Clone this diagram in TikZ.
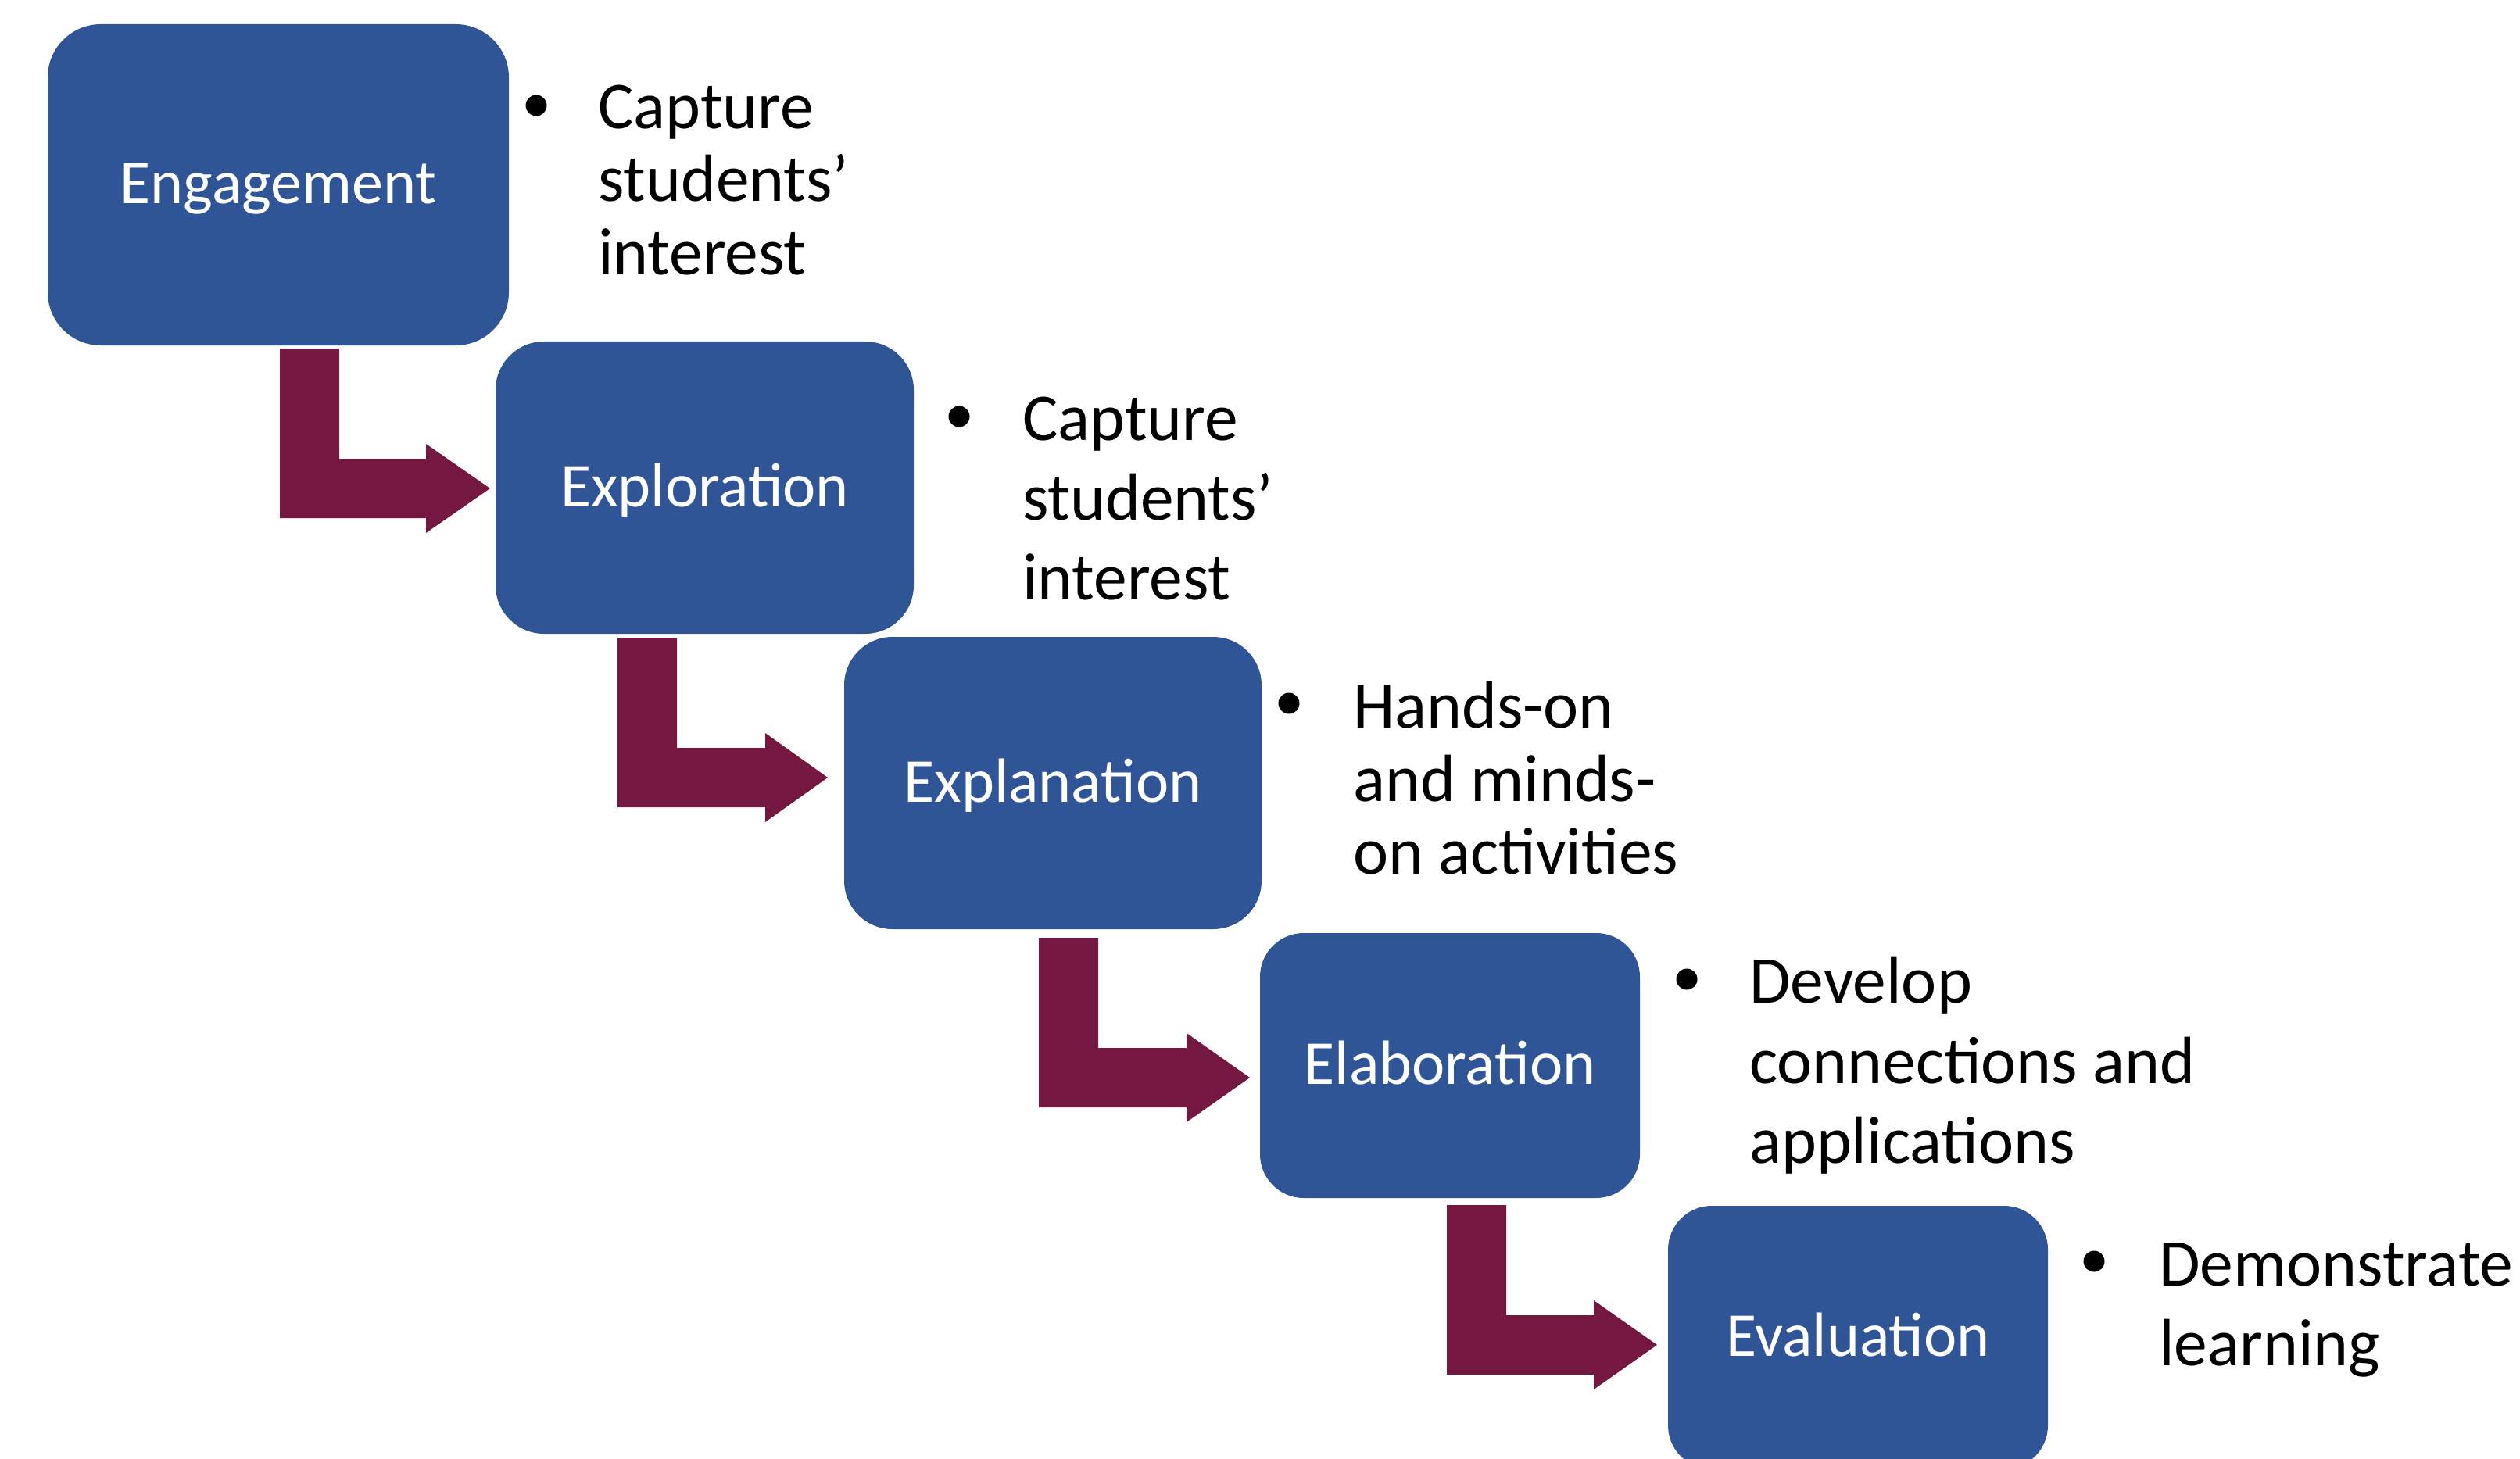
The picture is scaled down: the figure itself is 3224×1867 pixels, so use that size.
\documentclass[tikz,border=0pt]{standalone}
\usepackage{fontspec}
\setmainfont{Carlito}
\definecolor{boxblue}{HTML}{2F5597}
\definecolor{arrowred}{HTML}{741842}
\newcommand\bentarrow[5]{%
  \fill[arrowred] (#1,#2) -- ({#1+76},#2) -- ({#1+76},{#3-38}) -- (#4,{#3-38})
    -- (#4,{#3-57}) -- (#5,#3) -- (#4,{#3+57}) -- (#4,{#3+38}) -- (#1,{#3+38}) -- cycle;}
\begin{document}
\begin{tikzpicture}[x=1pt,y=-1pt,
  box/.style={rectangle, fill=boxblue, text=white, inner sep=0pt,
    font=\fontsize{80}{92}\selectfont, text height=48pt, text depth=0pt},
  dot/.style={circle, fill=black, inner sep=0pt, minimum size=27pt},
  btext/.style={anchor=base west, inner sep=0pt, text=black,
    font=\fontsize{85.5}{100}\selectfont}]
\path[use as bounding box] (0,0) rectangle (3224,1867);
\clip (0,0) rectangle (3224,1867);

% boxes
\node[box, minimum width=590pt, minimum height=411pt, rounded corners=68pt] (b1) at (356,236.5) {Engagement};
\node[box, minimum width=535pt, minimum height=374pt, rounded corners=62pt] (b2) at (901.5,624) {Exploration};
\node[box, minimum width=534pt, minimum height=374pt, rounded corners=62pt] (b3) at (1347,1002) {Explanation};
\node[box, minimum width=486pt, minimum height=339pt, rounded corners=56pt] (b4) at (1855,1363.5) {Elaboration};
\node[box, minimum width=486pt, minimum height=337pt, rounded corners=56pt] (b5) at (2377,1711.5) {Evaluation};

% bent arrows
\bentarrow{358}{446}{625}{545}{627}
\bentarrow{790}{816}{995}{979}{1059}
\bentarrow{1329}{1200}{1379}{1518}{1599}
\bentarrow{1851}{1542}{1721}{2039}{2120}

% bullets and texts
\node[dot] (d1) at (686,135) {};
\node[btext] (t1a) at (765,165) {Capture};
\node[btext] (t1b) at (765,258) {students’};
\node[btext] (t1c) at (765,352) {interest};

\node[dot] (d2) at (1227,533) {};
\node[btext] (t2a) at (1308,563) {Capture};
\node[btext] (t2b) at (1308,665) {students’};
\node[btext] (t2c) at (1308,767) {interest};

\node[dot] (d3) at (1649,900) {};
\node[btext] (t3a) at (1731,931) {Hands-on};
\node[btext] (t3b) at (1731,1025) {and minds-};
\node[btext] (t3c) at (1731,1118) {on activities};

\node[dot] (d4) at (2158,1253) {};
\node[btext] (t4a) at (2238,1283) {Develop};
\node[btext] (t4b) at (2238,1386) {connections and};
\node[btext] (t4c) at (2238,1488) {applications};

\node[dot] (d5) at (2679,1614) {};
\node[btext] (t5a) at (2762,1645) {Demonstrate};
\node[btext] (t5b) at (2762,1747) {learning};
\end{tikzpicture}
\end{document}
